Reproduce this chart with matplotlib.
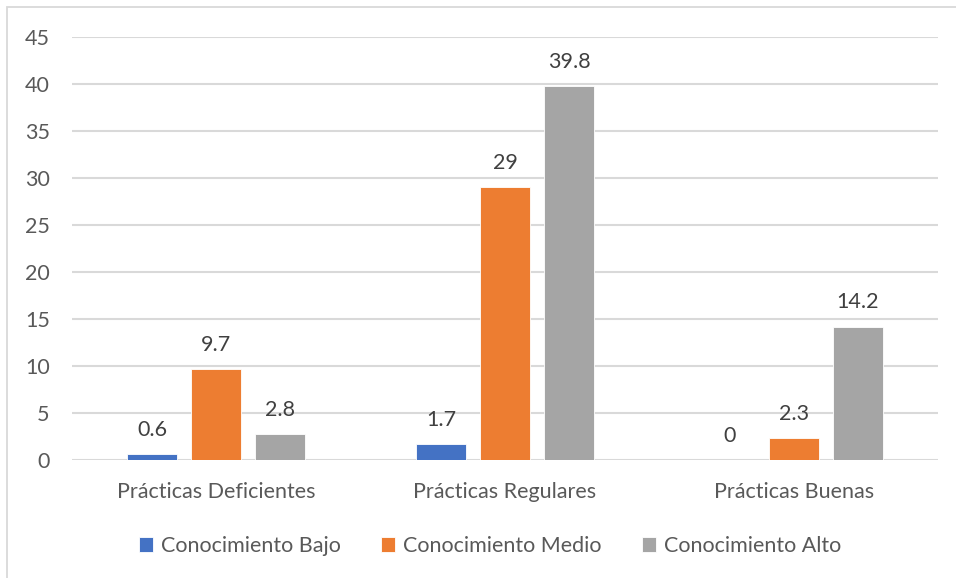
import matplotlib
matplotlib.use("Agg")
import matplotlib.pyplot as plt
from matplotlib.patches import Rectangle
import numpy as np

categories = ["Prácticas Deficientes", "Prácticas Regulares", "Prácticas Buenas"]
series_names = ["Conocimiento Bajo", "Conocimiento Medio", "Conocimiento Alto"]
bajo = [0.6, 1.7, 0]
medio = [9.7, 29, 2.3]
alto = [2.8, 39.8, 14.2]
y_ticks = [0, 5, 10, 15, 20, 25, 30, 35, 40, 45]

colors = ["#4472C4", "#ED7D31", "#A5A5A5"]
text_color = "#595959"
grid_color = "#D9D9D9"
fs = 15.5

plt.rcParams["font.family"] = ["Lato", "DejaVu Sans"]

fig = plt.figure(figsize=(9.56, 5.78), dpi=100)
fig.patch.set_facecolor("white")

# outer chart frame
fig.patches.append(Rectangle((7 / 956, -0.05), 1.1, 1 - 7 / 578 + 0.05,
                             transform=fig.transFigure, fill=False,
                             edgecolor="#D9D9D9", linewidth=1.3))

ax = fig.add_axes([72 / 956, 1 - 460 / 578, (938 - 72) / 956, 423 / 578])

x = np.arange(len(categories))
width = 0.173
offsets = [-0.222, 0.0, 0.222]
for vals, off, col, name in zip([bajo, medio, alto], offsets, colors, series_names):
    ax.bar(x + off, vals, width, color=col, label=name,
           edgecolor="white", linewidth=0.6, zorder=3)
    for xi, v in zip(x + off, vals):
        ax.annotate(f"{v:g}", (xi, v), xytext=(0, 13), textcoords="offset points",
                    ha="center", va="baseline", fontsize=fs, color="#404040")

ax.set_xlim(-0.5, 2.5)
ax.set_ylim(0, 45)
ax.set_yticks(y_ticks)
ax.set_xticks(x)
ax.set_xticklabels(categories)
ax.yaxis.grid(True, color=grid_color, linewidth=1.5, zorder=0)
ax.set_axisbelow(True)
for s in ax.spines.values():
    s.set_visible(False)
ax.tick_params(axis="both", length=0, labelsize=fs, colors=text_color)
ax.tick_params(axis="y", pad=16)
ax.tick_params(axis="x", pad=16)

leg = fig.legend(loc="center", bbox_to_anchor=(490 / 956, 1 - 546 / 578), ncol=3,
                 frameon=False, fontsize=fs, handlelength=0.65, handleheight=0.65,
                 handletextpad=0.35, columnspacing=1.9)
for t in leg.get_texts():
    t.set_color(text_color)

fig.savefig("out.png", dpi=100)
